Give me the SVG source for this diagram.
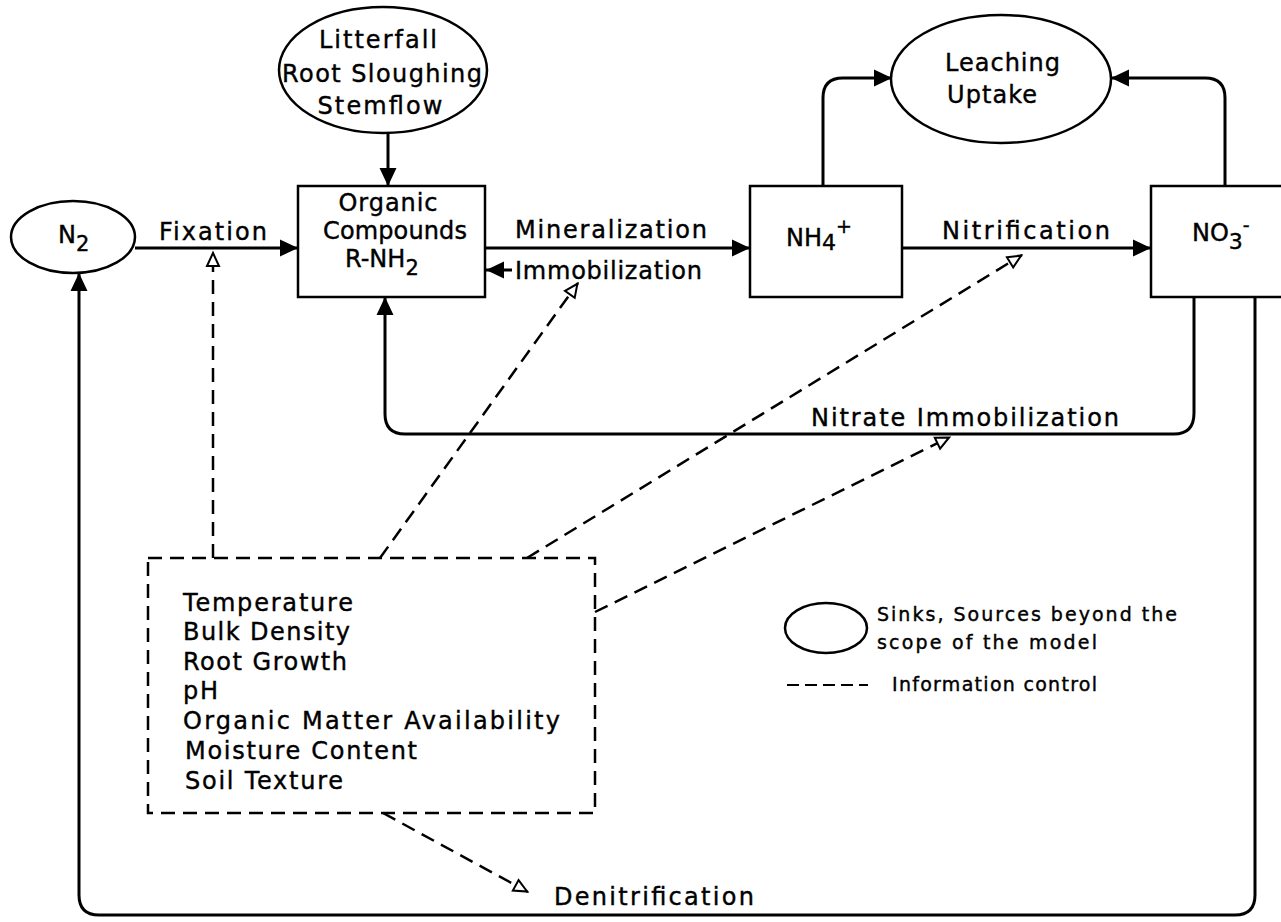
<svg xmlns="http://www.w3.org/2000/svg" width="1281" height="922" viewBox="0 0 1281 922">
<style>
.t { font-family: "DejaVu Sans", "Liberation Sans", sans-serif; fill: #000; stroke: #000; stroke-width: 0.4; }
.lbl { font-size: 24px; }
.sm { font-size: 19px; }
.node { fill: #fff; stroke: #000; stroke-width: 2.5; }
.flow { fill: none; stroke: #000; stroke-width: 3; }
.ctrl { fill: none; stroke: #000; stroke-width: 2.5; stroke-dasharray: 14 8; }
</style>
<defs>
<marker id="ah" markerUnits="userSpaceOnUse" markerWidth="20" markerHeight="20" refX="18" refY="10" orient="auto">
<path d="M0,1.5 L18,10 L0,18.5 z" fill="#000"/>
</marker>
<marker id="oh" markerUnits="userSpaceOnUse" markerWidth="18" markerHeight="16" refX="16" refY="8" orient="auto">
<path d="M2,2 L15,8 L2,14 z" fill="#fff" stroke="#000" stroke-width="2" stroke-dasharray="none"/>
</marker>
</defs>
<rect width="1281" height="922" fill="#fff"/>

<g id="connectors">
<path class="flow" d="M135,248 H298" marker-end="url(#ah)"/>
<path class="flow" d="M388,133 V186" marker-end="url(#ah)"/>
<path class="flow" d="M485,248 H750" marker-end="url(#ah)"/>
<path class="flow" d="M512,270 H486" marker-end="url(#ah)"/>
<path class="flow" d="M902,248 H1151" marker-end="url(#ah)"/>
<path class="flow" d="M823,186 V98 Q823,78 843,78 H892" marker-end="url(#ah)"/>
<path class="flow" d="M1225,186 V98 Q1225,78 1205,78 H1111" marker-end="url(#ah)"/>
<path class="flow" d="M1194,297 V413 Q1194,434 1174,434 H405 Q385,434 385,414 V297" marker-end="url(#ah)"/>
<path class="flow" d="M1255,297 V895 Q1255,915 1235,915 H99 Q79,915 79,895 V273" marker-end="url(#ah)"/>
<path class="ctrl" d="M213,558 V252" marker-end="url(#oh)"/>
<path class="ctrl" d="M380,558 L578,283" marker-end="url(#oh)"/>
<path class="ctrl" d="M527,558 L1022,255" marker-end="url(#oh)"/>
<path class="ctrl" d="M595,612 L950,437" marker-end="url(#oh)"/>
<path class="ctrl" d="M383,813 L528,892" marker-end="url(#oh)"/>
</g>

<g id="edge-labels">
<text class="t lbl" x="159" y="240" textLength="108" lengthAdjust="spacing">Fixation</text>
<text class="t lbl" x="515" y="238" textLength="192" lengthAdjust="spacing">Mineralization</text>
<text class="t lbl" x="515" y="279" textLength="187" lengthAdjust="spacing">Immobilization</text>
<text class="t lbl" x="942" y="239" textLength="168" lengthAdjust="spacing">Nitrification</text>
<text class="t lbl" x="811" y="426" textLength="308" lengthAdjust="spacing">Nitrate Immobilization</text>
<text class="t lbl" x="554" y="905" textLength="200" lengthAdjust="spacing">Denitrification</text>
</g>

<g id="n2">
<ellipse class="node" cx="73" cy="237" rx="62" ry="36"/>
<text class="t lbl" x="58" y="243">N<tspan font-size="21" dy="8">2</tspan></text>
</g>

<g id="litterfall">
<ellipse class="node" cx="383" cy="70" rx="104" ry="63"/>
<text class="t lbl" x="378" y="48" text-anchor="middle" textLength="118" lengthAdjust="spacing">Litterfall</text>
<text class="t lbl" x="382" y="82" text-anchor="middle" textLength="200" lengthAdjust="spacing">Root Sloughing</text>
<text class="t lbl" x="380" y="114" text-anchor="middle" textLength="125" lengthAdjust="spacing">Stemflow</text>
</g>

<g id="organic">
<rect class="node" x="298" y="186" width="187" height="111"/>
<text class="t lbl" x="388" y="211" text-anchor="middle" textLength="99" lengthAdjust="spacing">Organic</text>
<text class="t lbl" x="395" y="239" text-anchor="middle" textLength="144" lengthAdjust="spacing">Compounds</text>
<text class="t lbl" x="345" y="267">R-NH<tspan font-size="21" dy="8">2</tspan></text>
</g>

<g id="nh4">
<rect class="node" x="750" y="186" width="152" height="111"/>
<text class="t lbl" x="786" y="246">NH<tspan font-size="22" dy="4">4</tspan><tspan font-size="19" dy="-17">+</tspan></text>
</g>

<g id="no3">
<rect class="node" x="1151" y="186" width="140" height="111"/>
<text class="t lbl" x="1192" y="241">NO<tspan font-size="22" dy="8">3</tspan><tspan font-size="19" dy="-17">-</tspan></text>
</g>

<g id="leaching">
<ellipse class="node" cx="1001" cy="79" rx="110" ry="64"/>
<text class="t lbl" x="945" y="71" textLength="115" lengthAdjust="spacing">Leaching</text>
<text class="t lbl" x="947" y="103" textLength="90" lengthAdjust="spacing">Uptake</text>
</g>

<g id="factors">
<rect x="148" y="558" width="447" height="255" fill="none" stroke="#000" stroke-width="2.5" stroke-dasharray="14 8"/>
<text class="t lbl" x="183" y="611" textLength="170" lengthAdjust="spacing">Temperature</text>
<text class="t lbl" x="183" y="640" textLength="167" lengthAdjust="spacing">Bulk Density</text>
<text class="t lbl" x="183" y="670" textLength="164" lengthAdjust="spacing">Root Growth</text>
<text class="t lbl" x="183" y="699" textLength="35" lengthAdjust="spacing">pH</text>
<text class="t lbl" x="183" y="729" textLength="377" lengthAdjust="spacing">Organic Matter Availability</text>
<text class="t lbl" x="185" y="759" textLength="232" lengthAdjust="spacing">Moisture Content</text>
<text class="t lbl" x="185" y="789" textLength="158" lengthAdjust="spacing">Soil Texture</text>
</g>

<g id="legend">
<ellipse cx="826" cy="628" rx="41" ry="25" fill="none" stroke="#000" stroke-width="2.5"/>
<text class="t sm" x="877" y="621" textLength="300" lengthAdjust="spacing">Sinks, Sources beyond the</text>
<text class="t sm" x="877" y="649" textLength="220" lengthAdjust="spacing">scope of the model</text>
<path d="M787,685 H868" fill="none" stroke="#000" stroke-width="2" stroke-dasharray="12 6"/>
<text class="t sm" x="892" y="691" textLength="205" lengthAdjust="spacing">Information control</text>
</g>
</svg>
